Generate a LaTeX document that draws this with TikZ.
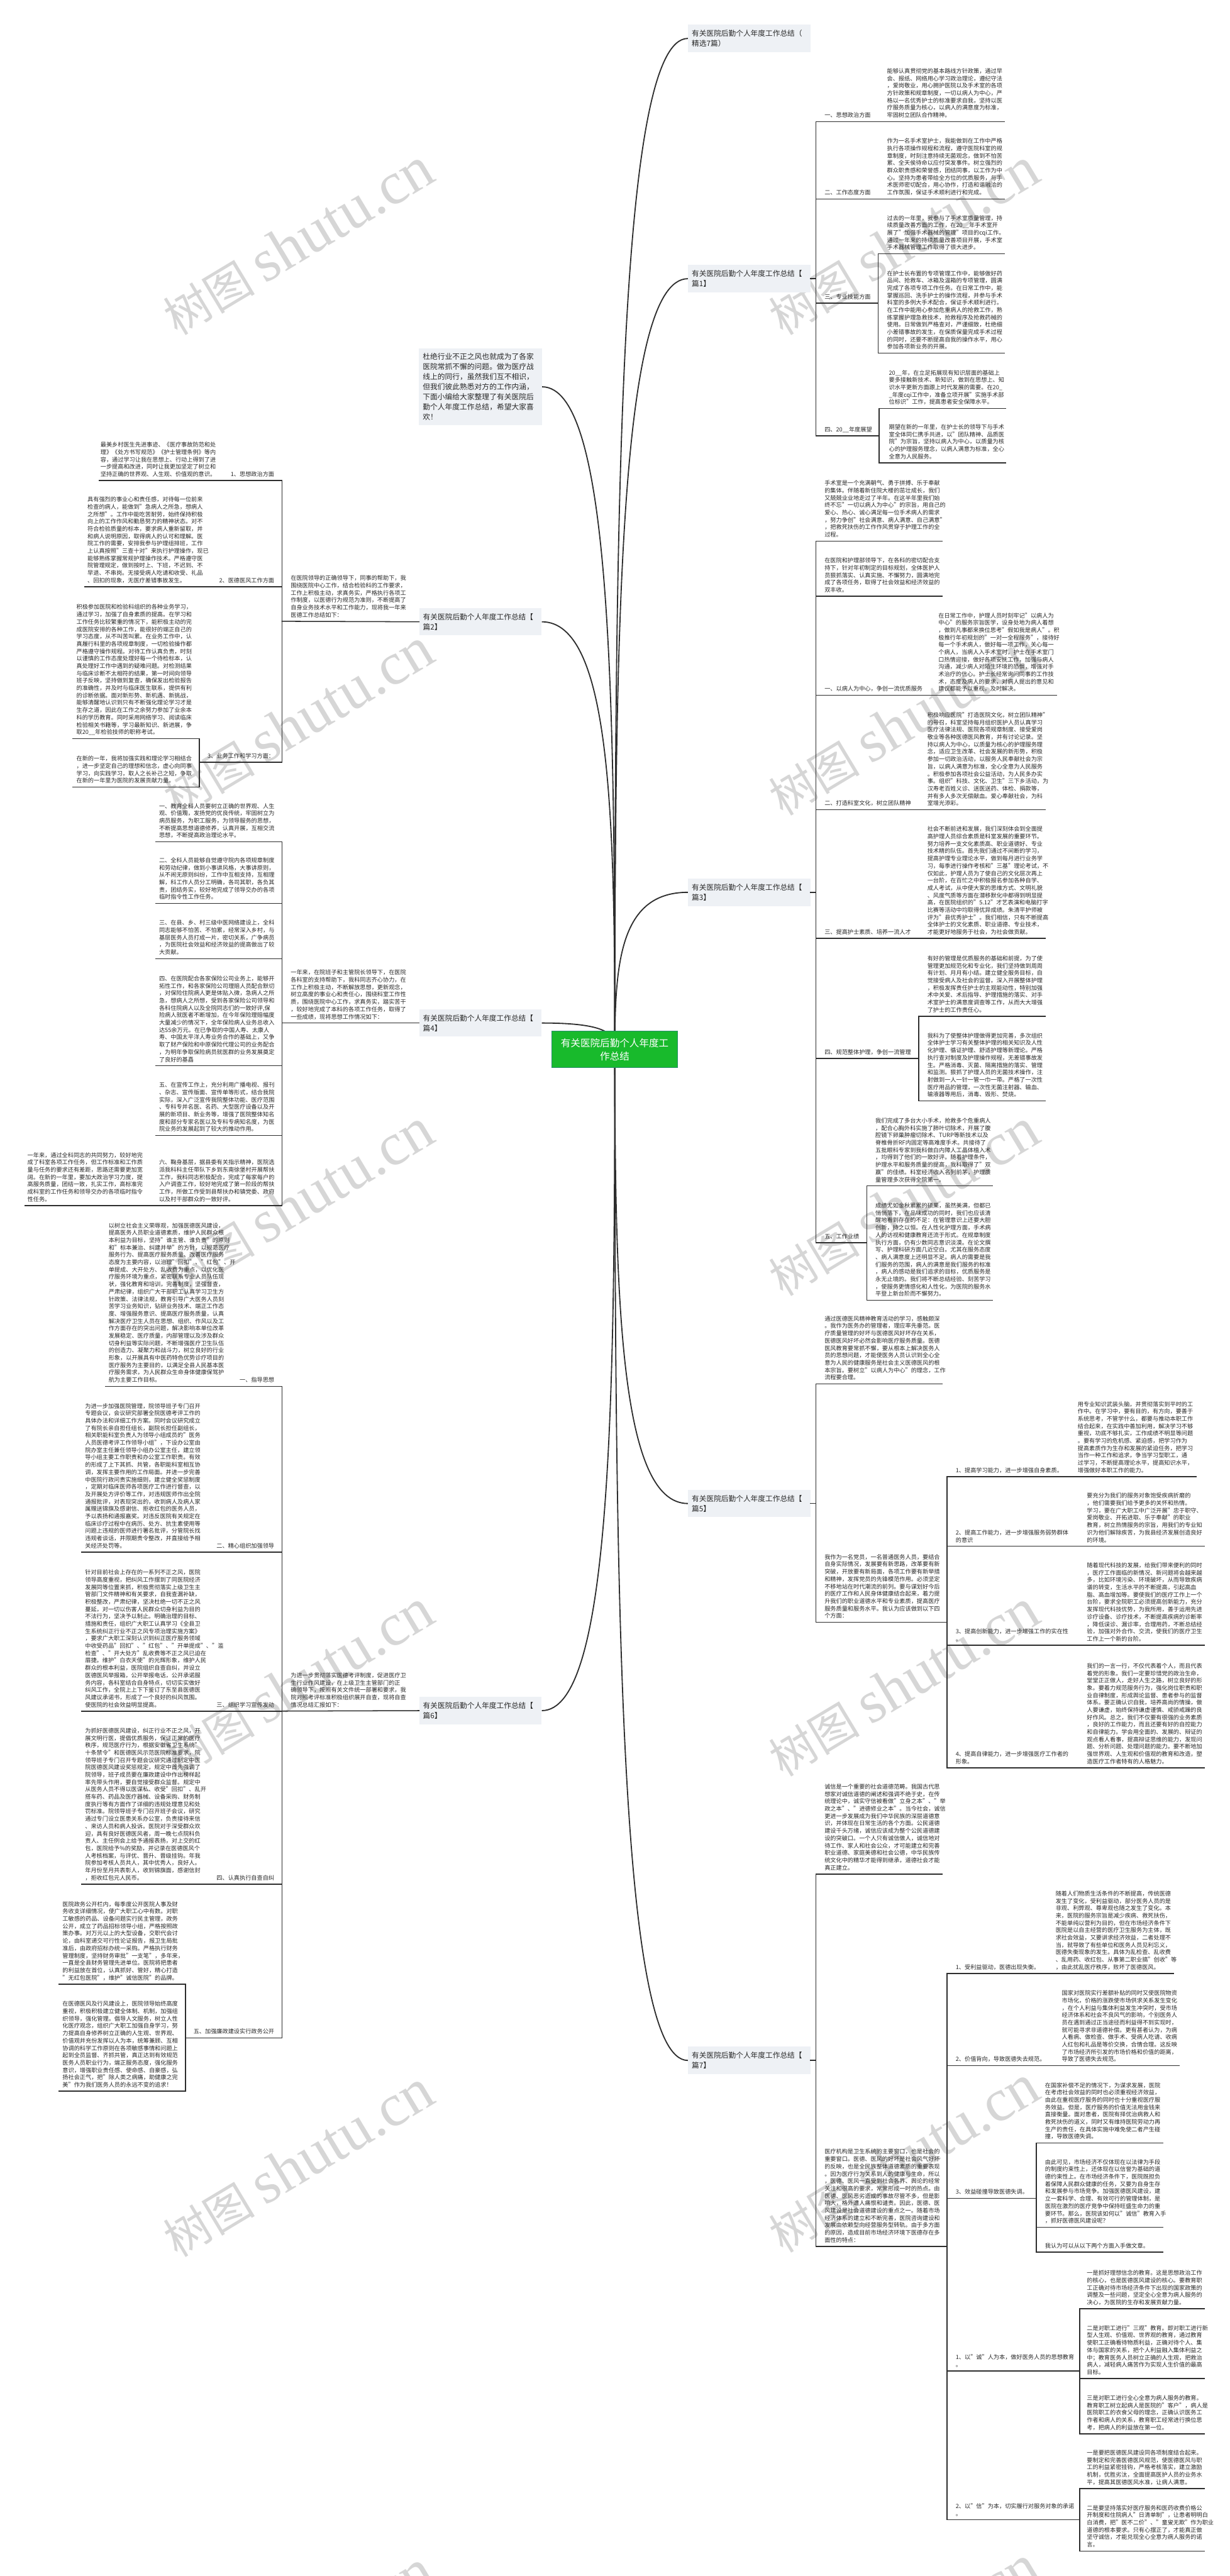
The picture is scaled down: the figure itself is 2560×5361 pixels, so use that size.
\documentclass[tikz,border=0pt]{standalone}
\usepackage{fontspec}
\setmainfont{Noto Sans CJK SC}
\newfontfamily\wmlat{Liberation Serif}
\definecolor{txt}{RGB}{40,40,40}
\definecolor{lncol}{RGB}{45,45,45}
\definecolor{labbg}{RGB}{238,241,245}
\definecolor{grn}{RGB}{24,186,44}
\definecolor{grnd}{RGB}{40,140,110}
\definecolor{wmc}{RGB}{214,214,214}
\pgfdeclarelayer{bg}
\pgfsetlayers{bg,main}
\newcommand\lfend{\rule[-3.5pt]{0pt}{1pt}}
\newcommand\TX[4]{\node[lf,anchor=south west] (#1) at (#2,#3-5) {#4\lfend};}
\newcommand\TXR[4]{\node[lf,anchor=south east] (#1) at (#2,#3-5) {#4\lfend};}
\newcommand\hln[3]{\draw[ln] (#1,#3) -- (#2,#3);}
\newcommand\vln[3]{\draw[ln] (#1,#2) -- (#1,#3);}
\newcommand\wmark[2]{\node[wm] at (#1,#2) {{\fontsize{95}{95}\selectfont 树图}\hspace{22pt}{\wmlat\fontsize{125}{125}\selectfont shutu.cn}};}
\tikzset{
  lf/.style={font=\fontsize{12}{15.3}\selectfont, align=left, inner sep=0pt, text=txt},
  lab/.style={fill=labbg, font=\fontsize{15.3}{21}\selectfont, align=left, text width=239pt, inner xsep=8pt, inner ysep=0pt, minimum height=57pt, text=txt},
  intro/.style={fill=labbg, font=\fontsize{15.4}{20.8}\selectfont, align=left, text width=240pt, inner xsep=8pt, inner ysep=0pt, minimum height=160pt, text=txt},
  ctr/.style={fill=grn, draw=grnd, line width=1.2pt, text=white, font=\fontsize{20.4}{27.7}\selectfont, align=center, minimum width=261pt, minimum height=76pt, inner sep=0pt},
  ln/.style={draw=lncol, line width=2pt, line cap=rect},
  cv/.style={draw=lncol, line width=2.4pt},
  wm/.style={anchor=base west, rotate=31, text=wmc, inner sep=0pt}
}
\begin{document}
\begin{tikzpicture}[x=1pt,y=-1pt]
\useasboundingbox (0,0) rectangle (2560,5361);
\begin{pgfonlayer}{bg}
\fill[white] (0,0) rectangle (2560,5361);
\wmark{1630}{700}\wmark{1630}{1700}\wmark{1630}{2700}\wmark{1630}{3700}\wmark{1630}{4690}\wmark{1630}{5690}
\wmark{370}{700}\wmark{370}{1700}\wmark{370}{2700}\wmark{370}{3700}\wmark{370}{4700}\wmark{370}{5700}
\end{pgfonlayer}

% ---------- main labels ----------
\node[lab] (r0) at (1559.5,80) {有关医院后勤个人年度工作总结（\\精选7篇）};
\node[lab] (p1) at (1559.5,580) {有关医院后勤个人年度工作总结【\\篇1】};
\node[lab] (p3) at (1559.5,1857) {有关医院后勤个人年度工作总结【\\篇3】};
\node[lab] (p5) at (1559.5,3129) {有关医院后勤个人年度工作总结【\\篇5】};
\node[lab] (p7) at (1559.5,4288) {有关医院后勤个人年度工作总结【\\篇7】};
\node[intro] (in) at (1000,805) {杜绝行业不正之风也就成为了各家\\医院常抓不懈的问题。做为医疗战\\线上的同行，虽然我们互不相识，\\但我们彼此熟悉对方的工作内涵，\\下面小编给大家整理了有关医院后\\勤个人年度工作总结，希望大家喜\\欢！};
\node[lab] (q2) at (1000,1294) {有关医院后勤个人年度工作总结【\\篇2】};
\node[lab] (q4) at (1000,2129) {有关医院后勤个人年度工作总结【\\篇4】};
\node[lab] (q6) at (1000,3560) {有关医院后勤个人年度工作总结【\\篇6】};
\node[ctr] (c) at (1279.5,2184) {有关医院后勤个人年度工\\作总结};

% ---------- 篇1 ----------
\vln{1698}{253}{907}
\draw[ln] (p1.east) -- (1698,580);
\TX{a1l}{1716}{253}{一、思想政治方面}
\TX{a1t}{1846}{253}{能够认真贯彻党的基本路线方针政策，通过早\\
会、报纸、网络用心学习政治理论，遵纪守法\\
，爱岗敬业，用心拥护医院以及手术室的各项\\
方针政策和规章制度，一切以病人为中心，严\\
格以一名优秀护士的标准要求自我，坚持以医\\
疗服务质量为核心，以病人的满意度为标准，\\
牢固树立团队合作精神。}
\hln{1698}{2091}{253}
\TX{a2l}{1716}{414}{二、工作态度方面}
\TX{a2t}{1846}{414}{作为一名手术室护士，我能做到在工作中严格\\
执行各项操作规程和流程，遵守医院科室的规\\
章制度，时刻注意持续无菌观念，做到不怕苦\\
累、全天侯待命以应付突发事件。树立强烈的\\
群众职责感和荣誉感，团结同事，以工作为中\\
心。坚持为患者带给全方位的优质服务，与手\\
术医师密切配合，用心协作，打造和谐融洽的\\
工作氛围，保证手术顺利进行和完成。}
\hln{1698}{2091}{414}
\TX{a3l}{1716}{631}{三、专业技能方面}
\hln{1698}{1828}{631}
\vln{1828}{528}{735}
\TX{a3a}{1846}{528}{过去的一年里，我参与了手术室质量管理，持\\
续质量改善方面的工作，在20\_\_年手术室开\\
展了"加强手术器械的管理"项目的cqi工作。\\
通过一年来的持续质量改善项目开展，手术室\\
手术器械管理工作取得了很大进步。}
\hln{1828}{2091}{528}
\TX{a3b}{1846}{735}{在护士长布置的专项管理工作中，能够做好药\\
品间、抢救车、冰箱及温箱的专项管理，圆满\\
完成了各项专项工作任务。在日常工作中，能\\
掌握巡回、洗手护士的操作流程，并参与手术\\
科室的多例大手术配合，保证手术顺利进行。\\
在工作中能用心参加危重病人的抢救工作，熟\\
练掌握护理急救技术，抢救程序及抢救药械的\\
使用。日常做到严格查对，严谨细致，杜绝细\\
小差错事故的发生，在保质保量完成手术过程\\
的同时，还要不断提高自我的操作水平，用心\\
参加各项新业务的开展。}
\hln{1828}{2091}{735}
\TX{a4l}{1716}{907}{四、20\_\_年度展望}
\hln{1698}{1830}{907}
\vln{1830}{850}{963}
\TX{a4a}{1850}{850}{20\_\_年，在立足拓展现有知识层面的基础上\\
要多接触新技术、新知识，做到在思想上、知\\
识水平更新方面跟上时代发展的需要。在20\_\\
\_年度cqi工作中，准备立项开展"实施手术部\\
位标识"工作，提高患者安全保障水平。}
\hln{1830}{2093}{850}
\TX{a4b}{1850}{963}{期望在新的一年里，在护士长的领导下与手术\\
室全体同仁携手共进，以"团队精神、品质医\\
院"为宗旨，坚持以病人为中心，以质量为核\\
心的护理服务理念，以病人满意为标准，全心\\
全意为人民服务。}
\hln{1830}{2093}{963}

% ---------- 篇3 ----------
\vln{1698}{1126}{2586}
\draw[ln] (p3.east) -- (1698,1857);
\TX{b1}{1716}{1126}{手术室是一个充满朝气、勇于拼搏、乐于奉献\\
的集体。伴随着新住院大楼的茁壮成长，我们\\
又兢兢业业地走过了半年。在这半年里我们始\\
终不忘"一切以病人为中心"的宗旨，用自己的\\
爱心、热心、诚心满足每一位手术病人的需求\\
，努力争创"社会满意、病人满意、自己满意"\\
，把救死扶伤的工作作风贯穿于护理工作的全\\
过程。}
\hln{1698}{1961}{1126}
\TX{b2}{1716}{1241}{在医院和护理部领导下，在各科的密切配合支\\
持下，针对年初制定的目标规划，全体医护人\\
员狠抓落实、认真实施、不懈努力，圆满地完\\
成了各项任务，取得了社会效益和经济效益的\\
双丰收。}
\hln{1698}{1961}{1241}
\TX{b3l}{1716}{1447}{一、以病人为中心，争创一流优质服务}
\TX{b3t}{1953}{1447}{在日常工作中，护理人员时刻牢记"以病人为\\
中心"的服务宗旨医学，设身处地为病人着想\\
，做到凡事都来换位思考"假如我是病人"。积\\
极推行年初规划的"一对一全程服务"，接待好\\
每一个手术病人，做好每一项工作，关心每一\\
个病人，当病人入手术室时，护士在手术室门\\
口热情迎接，做好各项安抚工作，加强与病人\\
沟通，减少病人对陌生环境的恐惧，增强对手\\
术治疗的信心。护士长经常询问同事的工作技\\
术，态度及病人的要求，对病人提出的意见和\\
建议都能予以重视，及时解决。}
\hln{1698}{2199}{1447}
\TX{b4l}{1716}{1685}{二、打造科室文化，树立团队精神}
\TX{b4t}{1930}{1685}{积极响应医院"打造医院文化，树立团队精神"\\
的号召，科室坚持每月组织医护人员认真学习\\
医疗法律法规、医院各项规章制度、接受爱岗\\
敬业等各种医德医风教育，并有讨论记录。坚\\
持以病人为中心，以质量为核心的护理服务理\\
念，适应卫生改革、社会发展的新形势，积极\\
参加一切政治活动，以服务人民奉献社会为宗\\
旨，以病人满意为标准，全心全意为人民服务\\
。积极参加各项社会公益活动，为人民多办实\\
事。组织"科技、文化、卫生"三下乡活动，为\\
汉寿老百姓义诊、送医送药、体检、捐款等，\\
并有多人多次无偿献血。爱心奉献社会，为科\\
室增光添彩。}
\hln{1698}{2175}{1685}
\TX{b5l}{1716}{1953}{三、提高护士素质、培养一流人才}
\TX{b5t}{1930}{1953}{社会不断前进和发展，我们深刻体会到全面提\\
高护理人员综合素质是科室发展的重要环节。\\
努力培养一支文化素质高、职业道德好、专业\\
技术精的队伍。首先我们通过不间断的学习，\\
提高护理专业理论水平，做到每月进行业务学\\
习，每季进行操作考核和"三基"理论考试，不\\
仅如此，护理人员为了使自己的文化层次再上\\
一台阶，在百忙之中积极报名参加各种自学、\\
成人考试，从中使大家的思维方式、文明礼貌\\
、风度气质等方面在潜移默化中都得到明显提\\
高，在医院组织的"5.12"才艺表演和电脑打字\\
比赛等活动中均取得优异成绩。朱清平护师被\\
评为"县优秀护士"。我们相信，只有不断提高\\
全体护士的文化素质、职业道德、专业技术，\\
才能更好地服务于社会，为社会做贡献。}
\hln{1698}{2175}{1953}
\TX{b6l}{1716}{2203}{四、规范整体护理，争创一流管理}
\hln{1698}{1912}{2203}
\vln{1912}{2115}{2291}
\TX{b6a}{1930}{2115}{有好的管理是优质服务的基础和前提，为了使\\
管理更加规范化和专业化，我们坚持做到周周\\
有计划、月月有小结。建立健全服务目标，自\\
觉接受病人及社会的监督。深入开展整体护理\\
，积极发挥责任护士的主观能动性，特别加强\\
术中关爱、术后指导、护理措施的落实、对手\\
术室护士的满意度调查等工作，从而大大增强\\
了护士的工作责任心。}
\hln{1912}{2175}{2115}
\TX{b6b}{1930}{2291}{我科为了使整体护理做得更加完善，多次组织\\
全体护士学习有关整体护理的相关知识及人性\\
化护理、循证护理、舒适护理等新理论。严格\\
执行查对制度及护理操作规程，无差错事故发\\
生。严格消毒、灭菌、隔离措施的落实、管理\\
和监测。狠抓了护理人员的无菌技术操作，注\\
射做到一人一针一管一巾一带。严格了一次性\\
医疗用品的管理，一次性无菌注射器、输血、\\
输液器等用后，消毒、毁形、焚烧。}
\hln{1912}{2175}{2291}
\TX{b7l}{1716}{2586}{五、工作业绩}
\hln{1698}{1804}{2586}
\vln{1804}{2468}{2706}
\TX{b7a}{1822}{2468}{我们完成了多台大小手术，抢救多个危重病人\\
，配合心胸外科实施了肺叶切除术，开展了腹\\
腔镜下卵巢肿瘤切除术、TURP等新技术以及\\
脊椎骨折RF内固定等高难度手术。共接待了\\
五批眼科专家到我科做白内障人工晶体植入术\\
，均得到了他们的一致好评。随着护理条件，\\
护理水平和服务质量的提高，我科取得了"双\\
赢"的佳绩。科室经济收入名列前茅，护理质\\
量管理多次获得全院第一。}
\hln{1804}{2066}{2468}
\TX{b7b}{1822}{2706}{成绩尤如金秋累累的硕果，虽然美满，但都已\\
悄悄落下，在品味成功的同时，我们也应该清\\
醒地看到存在的不足：在管理意识上还要大胆\\
创新，持之以恒。在人性化护理方面，手术病\\
人的访视和健康教育还流于形式。在规章制度\\
执行方面，仍有少数同志意识淡漠。在论文撰\\
写、护理科研方面几近空白。尤其在服务态度\\
、病人满意度上还明显不足。病人的需要是我\\
们服务的范围，病人的满意是我们服务的标准\\
，病人的感动是我们追求的目标，优质服务是\\
永无止境的。我们将不断总结经验、刻苦学习\\
，使服务更情感化和人性化，为医院的服务水\\
平登上新台阶而不懈努力。}
\hln{1804}{2066}{2706}

% ---------- 篇5 ----------
\vln{1698}{2880}{3376}
\draw[ln] (p5.east) -- (1698,3129);
\TX{c1}{1716}{2880}{通过医德医风精神教育活动的学习，感触颇深\\
。我作为医务办的管理者，理应率先垂范。医\\
疗质量管理的好坏与医德医风好坏存在关系，\\
医德医风好坏必然会影响医疗服务质量。医德\\
医风教育要常抓不懈，要从根本上解决医务人\\
员的思想问题，才能使医务人员认识到全心全\\
意为人民的健康服务是社会主义医德医风的根\\
本宗旨。要树立"以病人为中心"的理念，工作\\
流程要合理。}
\hln{1698}{1961}{2880}
\TX{c2}{1716}{3376}{我作为一名党员，一名普通医务人员，要结合\\
自身实际情况，发展要有新思路，改革要有新\\
突破，开放要有新局面，各项工作要有新举措\\
和精神，发挥党员的先锋模范作用。必须坚定\\
不移地站在时代潮流的前列。要与谋划好今后\\
的医疗工作和人民身体健康结合起来，着力提\\
升我们的职业道德水平和专业素质，提高医疗\\
服务质量和服务水平。我认为应该做到以下四\\
个方面：}
\hln{1698}{1971}{3376}
\vln{1971}{3073}{3679}
\TX{c21l}{1989}{3073}{1、提高学习能力，进一步增强自身素质。}
\TX{c21t}{2243}{3073}{用专业知识武装头脑，并贯彻落实到平时的工\\
作中。在学习中，要有目的，有方向，要善于\\
系统思考，不管学什么，都要与推动本职工作\\
结合起来，在实践中善加利用，解决学习不够\\
重视，功底不够扎实，工作成绩不明显等问题\\
。要有学习的危机感、紧迫感，把学习作为\\
提高素质作为生存和发展的紧迫任务，把学习\\
当作一种工作和追求，争当学习型职工，通\\
过学习，不断提高理论水平，提高知识水平，\\
增强做好本职工作的能力。}
\hln{1971}{2490}{3073}
\TX{c22l}{1989}{3218}{2、提高工作能力，进一步增强服务弱势群体\\的意识}
\TX{c22t}{2262}{3218}{要充分为我们的服务对象饱受疾病折磨的\\
，他们需要我们给予更多的关怀和热情。\\
学习，要在广大职工中广泛开展"忠于职守、\\
爱岗敬业、开拓进取、乐于奉献"的职业\\
教育，树立热情服务的宗旨，用我们的专业知\\
识为他们解除疾苦，为我县经济发展创造良好\\
的环境。}
\hln{1971}{2507}{3218}
\TX{c23l}{1989}{3424}{3、提高创新能力，进一步增强工作的实在性\\。}
\TX{c23t}{2262}{3424}{随着现代科技的发展，给我们带来便利的同时\\
，医疗工作面临的新情况、新问题将会越来越\\
多，比如环境污染、环境破坏，从而导致疾病\\
谱的转变，生活水平的不断提高，引起高血\\
脂、高血增加等。要使我们的医疗工作上一个\\
台阶，要求全院职工必须提高创新能力，充分\\
发挥现代科技优势，为我所用，善于运用先进\\
诊疗设备、诊疗技术，不断提高疾病的诊断率\\
，降低误诊、漏诊率，合理用药，不断总结经\\
验，加强对外合作、交流，使我们的医疗卫生\\
工作上一个新的台阶。}
\hln{1971}{2507}{3424}
\TX{c24l}{1989}{3679}{4、提高自律能力，进一步增强医疗工作者的\\形象。}
\TX{c24t}{2262}{3679}{我们的一言一行，不仅代表着个人，而且代表\\
着党的形象。我们一定要珍惜党的政治生命，\\
堂堂正正做人，走好人生之路，树立良好的形\\
象。要着力规范服务行为，强化岗位职责和职\\
业自律制度，形成舆论监督、患者参与的监督\\
体系。要正确认识自我，培养高尚的情操，做\\
人要谦虚，始终保持谦虚谨慎、戒骄戒躁的良\\
好作风。总之，我们不仅要有很强的业务素质\\
，良好的工作能力，而且还要有好的自控能力\\
和自律能力。学会用全面的、发展的、辩证的\\
观点看人看事，提高辩证思维的能力，发现问\\
题、分析问题、处理问题的能力。要不断地加\\
强世界观、人生观和价值观的教育和改造，塑\\
造医疗工作者特有的人格魅力。}
\hln{1971}{2507}{3679}

% ---------- 篇7 ----------
\vln{1698}{3900}{4675}
\draw[ln] (p7.east) -- (1698,4288);
\TX{d1}{1716}{3900}{诚信是一个重要的社会道德范畴。我国古代思\\
想家对诚信道德的阐述和强调不绝于史，在传\\
统理论中，诚实守信被看做"立身之本"、"举\\
政之本"、"进德修业之本"。当今社会，诚信\\
更进一步发展成为我们中华民族的深层道德意\\
识，并体现在日常生活的各个方面。公民道德\\
建设千头万绪，诚信应该成为整个公民道德建\\
设的突破口。一个人只有诚信做人，诚信地对\\
待工作、家人和社会公众，才可能建立和完善\\
职业道德、家庭美德和社会公德，中华民族传\\
统文化中的精华才能得到继承，道德社会才能\\
真正建立。}
\hln{1698}{1961}{3900}
\TX{d2}{1716}{4675}{医疗机构是卫生系统的主要窗口，也是社会的\\
重要窗口。医德、医风的好坏是社会风气好坏\\
的反映，也是全民族整体道德素质的重要表现\\
。因为医疗行为关系到人的健康与生命，所以\\
，医德、医风一直受到社会各界、舆论的经常\\
关注和很高的要求，常常形成一时的热点。由\\
医德、医风恶劣造成的事故尽管不多，但是影\\
响大，格外遭人痛恨和谴责。因此，医德、医\\
风建设是社会道德建设的重点之一。随着市场\\
经济体系的建立和不断完善，医院咨询建设和\\
发展由依赖型向经营服务型转轨。由于多方面\\
的原因，造成目前市场经济环境下医德存在多\\
面性的特点：}
\hln{1698}{1971}{4675}
\vln{1971}{4107}{5244}
\TX{d21l}{1989}{4107}{1、受利益驱动，医德出现失衡。}
\TX{d21t}{2197}{4107}{随着人们物质生活条件的不断提高，传统医德\\
发生了变化，受利益驱动，部分医务人员的是\\
非观、利弊观、尊卑观也随之发生了变化。本\\
来，医院的服务宗旨是减少疾病、救死扶伤，\\
不能单纯以营利为目的，但在市场经济条件下\\
医院是以自主经营的医疗卫生服务为主体，既\\
求社会效益，又要讲求经济效益，二者处理不\\
当，就导致了有些单位和医务人员见利忘义，\\
医德失衡现象的发生。具体为乱检查、乱收费\\
、乱用药、收红包、从事第二职业搞"创收"等\\
，由此扰乱医疗秩序，败坏了医德医风。}
\hln{1971}{2442}{4107}
\TX{d22l}{1989}{4299}{2、价值背向，导致医德失去规范。}
\TX{d22t}{2210}{4299}{国家对医院实行差额补贴的同时又使医院物资\\
市场化，价格的涨跌使市场供求关系发生变化\\
，在个人利益与集体利益发生冲突时，受市场\\
经济体系和社会不良风气的影响，个别医务人\\
员在遇到通过正当途径而利益得不到实现时，\\
就可能寻求非道德补偿。更有甚者认为，为病\\
人看病、做检查、做手术、受病人吃请、收病\\
人红包和礼品是等价交换，合情合理。这反映\\
了市场经济所引发的市场价格和价值的距离，\\
导致了医德失去规范。}
\hln{1971}{2455}{4299}
\TX{d23l}{1989}{4575}{3、效益碰撞导致医德失调。}
\hln{1971}{2157}{4575}
\vln{2157}{4460}{4687}
\TX{d23a}{2175}{4460}{在国家补偿不足的情况下，为谋求发展，医院\\
在考虑社会效益的同时也必须重视经济效益，\\
由此在重视医疗服务的同时也十分重视医疗服\\
务效益。但是，医疗服务的价值无法用金钱来\\
直接衡量。面对患者，医院有择优治病救人和\\
救死扶伤的道义，同时又有维持医院劳动力再\\
生产的责任，在具体实施中难免使二者产生碰\\
撞，导致医德失调。}
\hln{2157}{2420}{4460}
\TX{d23b}{2175}{4635}{由此可见，市场经济不仅体现在以法律为手段\\
的制度约束性上，还体现在以信誉为基础的道\\
德约束性上。在市场经济条件下，医院既担负\\
着保障人民群众健康的任务，又要为自身生存\\
和发展参与市场竞争。加强医德医风建设，建\\
立一套科学、合理、有效可行的管理体制，是\\
医院在激烈的医疗竞争中保持旺盛生命力的重\\
要环节。那么，医院该如何以"诚信"教育入手\\
，抓好医德医风建设呢？}
\hln{2157}{2420}{4635}
\TX{d23c}{2175}{4687}{我认为可以从以下两个方面入手做文章。}
\hln{2157}{2420}{4687}
\TX{d24l}{1989}{4934}{1、以"诚"人为本，做好医务人员的思想教育\\。}
\hln{1971}{2247}{4934}
\vln{2247}{4805}{5065}
\TX{d24a}{2262}{4805}{一是抓好理想信念的教育。这是思想政治工作\\
的核心，也是医德医风建设的核心。要教育职\\
工正确对待市场经济条件下出现的国家政策的\\
调整及一些问题，坚定全心全意为病人服务的\\
决心，为医院的生存和发展贡献力量。}
\hln{2247}{2507}{4805}
\TX{d24b}{2262}{4950}{二是对职工进行"三观"教育。即对职工进行新\\
型人生观、价值观、世界观的教育，通过教育\\
使职工正确看待物质利益，正确对待个人、集\\
体与国家的关系，把个人利益融入集体利益之\\
中；教育医务人员树立正确的人生观，把救治\\
病人，减轻病人痛苦作为实现人生价值的最高\\
目标。}
\hln{2247}{2507}{4950}
\TX{d24c}{2262}{5065}{三是对职工进行全心全意为病人服务的教育。\\
教育职工树立起病人是医院的"客户"，病人是\\
医院职工的衣食父母的理念，正确认识医务工\\
作者和病人的关系，教育职工经常进行换位思\\
考，把病人的利益放在第一位。}
\hln{2247}{2507}{5065}
\TX{d25l}{1989}{5244}{2、以"信"为本，切实履行对服务对象的承诺\\。}
\hln{1971}{2247}{5244}
\vln{2247}{5179}{5309}
\TX{d25a}{2262}{5179}{一是要把医德医风建设同各项制度结合起来。\\
要制定和完善医德医风规范，使医德医风与职\\
工的利益紧密挂钩，严格考核落实，建立激励\\
机制，优胜劣汰，全面提高医护人员的业务水\\
平，提高其医德医风水准，让病人满意。}
\hln{2247}{2507}{5179}
\TX{d25b}{2262}{5309}{二是要坚持落实好医疗服务和医药收费价格公\\
开制度和住院病人"日清单制"，让患者明明白\\
白消费，把"医不二价"、"童叟无欺"作为职业\\
道德的根本要求。只有心摆正了，才能真正做\\
坚守诚信，才能兑现全心全意为病人服务的诺\\
言。}
\hln{2247}{2507}{5309}

% ---------- 篇2 ----------
\draw[ln] (q2.west) -- (587,1293);
\TX{e0}{605}{1293}{在医院领导的正确领导下，同事的帮助下，我\\
围绕医院中心工作，结合检验科的工作要求，\\
工作上积极主动，求真务实，严格执行各项工\\
作制度，以医德行为规范为准则，不断提高了\\
自身业务技术水平和工作能力，现将我一年来\\
医德工作总结如下：}
\vln{587}{1000}{1586}
\TXR{e1l}{571}{1000}{1、思想政治方面}
\TX{e1t}{209}{1000}{最美乡村医生先进事迹、《医疗事故防范和处\\
理》《处方书写规范》《护士管理条例》等内\\
容，通过学习让我在思想上、行动上得到了进\\
一步提高和改进，同时让我更加坚定了树立和\\
坚持正确的世界观、人生观、价值观的意识。}
\hln{207}{587}{1000}
\TXR{e2l}{571}{1221}{2、医德医风工作方面}
\TX{e2t}{182}{1221}{具有强烈的事业心和责任感，对待每一位前来\\
检查的病人，能做到"急病人之所急，想病人\\
之所想"。工作中能吃苦耐劳，始终保持积极\\
向上的工作作风和勤恳努力的精神状态。对不\\
符合检验质量的标本，要求病人重新留取，并\\
和病人说明原因，取得病人的认可和理解。医\\
院工作的需要，安排我参与护理组排班，工作\\
上认真按照"三查十对"来执行护理操作，现已\\
能够熟练掌握常规护理操作技术。严格遵守医\\
院管理规定，做到按时上、下班，不迟到、不\\
早退、不串岗。无接受病人吃请和收受、礼品\\
、回扣的现象，无医疗差错事故发生。}
\hln{176}{587}{1221}
\TXR{e3l}{571}{1586}{3、业务工作和学习方面：}
\hln{415}{587}{1586}
\vln{415}{1537}{1638}
\TX{e3a}{159}{1537}{积极参加医院和检验科组织的各种业务学习，\\
通过学习，加强了自身素质的提高。在学习和\\
工作任务比较繁重的情况下，能积极主动的完\\
成医院安排的各种工作，能很好的端正自己的\\
学习态度，从不叫苦叫累。在业务工作中，认\\
真履行科里的各项规章制度，一切检验操作都\\
严格遵守操作规程。对待工作认真负责，时刻\\
以谨慎的工作态度处理好每一个待检标本，认\\
真处理好工作中遇到的疑难问题。对检测结果\\
与临床诊断不太相符的结果，第一时间向领导\\
班子反映，坚持做到复查，确保发出检验报告\\
的准确性，并及时与临床医生联系，提供有利\\
的诊断依据。面对新形势、新机遇、新挑战，\\
能够清醒地认识到只有不断强化理论学习才是\\
生存之道，因此在工作之余努力参加了业余本\\
科的学历教育。同时采用网络学习、阅读临床\\
检验相关书籍等，学习最新知识、新进展，争\\
取20\_\_年检验技师的职称考试。}
\hln{152}{415}{1537}
\TX{e3b}{159}{1638}{在新的一年，我将加强实践和理论学习相结合\\
，进一步坚定自己的理想和信念，虚心向同事\\
学习，向实践学习，取人之长补己之短，争取\\
在新的一年里为医院的发展贡献力量。}
\hln{152}{415}{1638}

% ---------- 篇4 ----------
\draw[ln] (q4.west) -- (587,2129);
\TX{f0}{605}{2129}{一年来，在院班子和主管院长领导下，在医院\\
各科室的支持帮助下，我科同志齐心协力，在\\
工作上积极主动，不断解放思想，更新观念，\\
树立高度的事业心和责任心，围绕科室工作性\\
质，围绕医院中心工作，求真务实，踏实苦干\\
，较好地完成了本科的各项工作任务，取得了\\
一些成绩，现将思想工作情况如下：}
\vln{587}{1752}{2509}
\TX{f1}{331}{1752}{一、教育全科人员要树立正确的世界观、人生\\
观、价值观，发扬党的优良传统，牢固树立为\\
病员服务，为职工服务，为领导服务的思想，\\
不断提高思想道德修养，认真开展，互相交流\\
思想，不断提高政治理论水平。}
\hln{324}{587}{1752}
\TX{f2}{331}{1880}{二、全科人员能够自觉遵守院内各项规章制度\\
和劳动纪律，做到小事讲风格，大事讲原则，\\
从不闹无原则纠纷，工作中互相支持，互相理\\
解，科工作人员分工明确，各司其职，各负其\\
责，团结务实，较好地完成了领导交办的各项\\
临时指令性工作任务。}
\hln{324}{587}{1880}
\TX{f3}{331}{1995}{三、在县、乡、村三级中医网络建设上，全科\\
同志能够不怕苦、不怕累，经常深入乡村，与\\
基层医务人员打成一片，密切关系，广争病员\\
，为医院社会效益和经济效益的提高做出了较\\
大贡献。}
\hln{324}{587}{1995}
\TX{f4}{331}{2218}{四、在医院配合各家保险公司业务上，能够开\\
拓性工作，和各家保险公司理赔人员配合默切\\
，对保险住院病人更是体贴入微，急病人之所\\
急，想病人之所想，受到各家保险公司领导和\\
各科住院病人以及全院同志们的一致好评,保\\
险病人就医者不断增加，在今年保险理赔幅度\\
大量减少的情况下，全年保险病人业务总收入\\
达55余万元。在已争取的中国人寿、太康人\\
寿、中国太平洋人寿业务合作的基础上，又争\\
取了财产保险和中原保险代理公司的业务配合\\
，为明年争取保险病员就医群的业务发展奠定\\
了良好的基嚞}
\hln{324}{587}{2218}
\TX{f5}{331}{2363}{五、在宣传工作上，充分利用广播电视、报刊\\
、杂志、宣传版面、宣传单等形式，结合我院\\
实际，深入广泛宣传我院整体功能、医疗范围\\
、专科专并名医、名药、大型医疗设备以及开\\
展的新项目、新业务等，增强了医院整体知名\\
度和部分专家名医以及专科专病知名度，为医\\
院业务的发展起到了较大的推动作用。}
\hln{324}{587}{2363}
\TX{f6}{331}{2509}{六、鞠身基层，据县委有关指示精神，医院选\\
派我科科主任带队下乡到东南徐堡村开展帮扶\\
工作，我科同志积极配合，完成了每家每户的\\
入户调查工作，较好地完成了第一阶段的帮扶\\
工作，所做工作受到县帮扶办和镇党委、政府\\
以及村干部群众的一致好评。}
\hln{324}{587}{2509}
\TX{f7}{57}{2509}{一年来，通过全科同志的共同努力，较好地完\\
成了科室各项工作任务，但工作标准和工作质\\
量与任务的要求还有差距，思路还需要更加宽\\
阔。在新的一年里，要加大政治学习力度，提\\
高服务质量，团结一致，扎实工作，高标准完\\
成科室的工作任务和领导交办的各项临时指令\\
性任务。}
\hln{52}{324}{2509}

% ---------- 篇6 ----------
\draw[ln] (q6.west) -- (587,3561);
\TX{g0}{605}{3561}{为进一步贯彻落实医德考评制度，促进医疗卫\\
生行业作风建设，在上级卫生主管部门的正\\
确领导下，按照有关文件统一部署和要求，我\\
院对照考评标准积极组织展开自查，现将自查\\
情况总结汇报如下：}
\vln{587}{2885}{4241}
\TXR{g1l}{571}{2885}{一、指导思想}
\TX{g1t}{226}{2885}{以树立社会主义荣辱观，加强医德医风建设，\\
提高医务人员职业道德素质，维护人民群众根\\
本利益为目标，坚持"谁主管、谁负责"的原则\\
和"标本兼治、纠建并举"的方针，以规范医疗\\
服务行为、提高医疗服务质量、改善医疗服务\\
态度为主要内容，以治理"回扣"、"红包"、开\\
单提成、大开处方、乱收费为重点，以优化医\\
疗服务环境为重点，紧密联系专业人员队伍现\\
状，强化教育和培训，完善制度，坚强督查，\\
严肃纪律，组织广大干部职工认真学习卫生方\\
针政策、法律法规，教育引导广大医务人员刻\\
苦学习业务知识，钻研业务技术、端正工作态\\
度、增强服务意识、提高医疗服务质量，认真\\
解决医疗卫生人员在思想、组织、作风以及工\\
作方面存在的突出问题，解决影响本单位改革\\
发展稳定、医疗质量，内部管理以及涉及群众\\
切身利益等实际问题，不断增强医疗卫生队伍\\
的创造力、凝聚力和战斗力，树立良好的行业\\
形象，以开展具有中医药特色优势诊疗项目的\\
医疗服务为主要目的，以满足全县人民基本医\\
疗服务需求，为人民群众生命身体健康保驾护\\
航为主要工作目标。}
\hln{219}{587}{2885}
\TXR{g2l}{571}{3230}{二、精心组织加强领导}
\TX{g2t}{177}{3230}{为进一步加强医院管理，院领导班子专门召开\\
专题会议，会议研究部署全院医德考评工作的\\
具体办法和详细工作方案。同时会议研究成立\\
了有院长亲自担任组长，副院长担任副组长，\\
相关职能科室负责人为领导小组成员的"医务\\
人员医德考评工作领导小组"，下设办公室由\\
院办室主任兼任领导小组办公室主任，建立领\\
导小组主要工作职责和办公室工作职责。有效\\
的形成了上下其抓、共管，各职能科室相互协\\
调，发挥主要作用的工作局面。并进一步完善\\
中医院行政问责实施细则，建立健全奖惩制度\\
，定期对临床医师各项医疗工作进行督查，以\\
及开展处方评价等工作，对违规医师作出全院\\
通报批评，对表现突出的，收到病人及病人家\\
属赠送锦旗及感谢信、拒收红包的医务人员，\\
予以表扬和通报嘉奖。对违反医院有关规定在\\
临床诊疗过程中在病历、处方、抗生素使用等\\
问题上违规的医师进行署名批评，分管院长找\\
违规者谈话，并限期责令整改，并直接给予相\\
关经济处罚等。}
\hln{170}{587}{3230}
\TXR{g3l}{571}{3561}{三、组织学习宣传发动}
\TX{g3t}{177}{3561}{针对目前社会上存在的一系列不正之风，医院\\
领导高度重视，把纠风工作摆到了同医院经济\\
发展同等位置来抓，积极贯彻落实上级卫生主\\
管部门文件精神和有关要求，自我查漏补缺，\\
积极整改，严肃纪律，坚决杜绝一切不正之风\\
蔓延，对一切以伤害人民群众切身利益为目的\\
不法行为，坚决予以制止。明确治理的目标、\\
措施和责任，组织广大职工认真学习《全县卫\\
生系统纠正行业不正之风专项治理实施方案》\\
，要求广大职工深刻认识到纠正医疗服务领域\\
中收受药品"回扣"、"红包"、"开单提成"、"滥\\
检查"、"开大处方"乱收费等不正之风已迫在\\
眉捷。维护"白衣天使"的光辉形象，维护人民\\
群众的根本利益，医院组织自查自纠，并设立\\
医德医风举报箱，公开举报电话，公开承诺服\\
务内容，各科室结合自身特点，切切实实做好\\
纠风工作，全院上上下下鉴订了东至县医德医\\
风建议承诺书，形成了一个良好的纠风氛围。\\
使医院的社会效益明显提高。}
\hln{170}{587}{3561}
\TXR{g4l}{571}{3921}{四、认真执行自查自纠}
\TX{g4t}{177}{3921}{为抓好医德医风建设，纠正行业不正之风，开\\
展文明行医，提倡优质服务，保证正常的医疗\\
秩序，规范医疗行为，根据安徽省卫生系统"\\
十条禁令"和医德医风示范医院标准要求，院\\
领导班子专门召开专题会议研究通过制定中医\\
院医德医风建设奖惩规定，规定中首先强调了\\
院领导，班子成员要在廉政建设中作出榜样起\\
率先带头作用，要自觉接受群众监督。规定中\\
从医务人员不得以医谋私、收受"回扣"、乱开\\
搭车药、药品及医疗器械、设备采购、财务制\\
度执行等有方面作了详细的违规处理意见和处\\
罚标准。院领导班子专门召开班子会议，研究\\
通过专门设立医患关系办公室，负责接待来信\\
、来访人员和病人投诉。医院对于深受群众欢\\
迎，具有良好医德医风者，周一晚七点院科负\\
责人、主任例会上给予通报表扬，对上交的红\\
包，医院给予\%的奖励，并记录在医德医风个\\
人考核档案，与评优、晋升、晋级挂钩。年我\\
院参加考核人员共人，其中优秀人，良好人。\\
年月份至月共表彰人，收到锦旗面，感谢信封\\
，拒收红包元人民币。}
\hln{170}{587}{3921}
\TXR{g5l}{571}{4241}{五、加强廉政建设实行政务公开}
\hln{386}{587}{4241}
\vln{386}{4129}{4352}
\TX{g5a}{130}{4129}{医院政务公开栏内，每季度公开医院人事及财\\
务收支详细情况，使广大职工心中有数。对职\\
工敏感的药品、设备问题实行民主管理，政务\\
公开，成立了药品招标领导小组，严格按照政\\
策办事。对万元以上的大型设备，交职代会讨\\
论，由科室递交可行性论证报告，报卫生局批\\
准后，由政府招标办统一采购。严格执行财务\\
管理制度，坚持财务审批"一支笔"，多年来，\\
一直是全县财务管理先进单位。医院将把患者\\
的利益放在首位，认真抓好、管好，精心打造\\
"无红包医院"，维护"诚信医院"的品牌。}
\hln{123}{386}{4129}
\TX{g5b}{130}{4352}{在医德医风及行风建设上，医院领导始终高度\\
重视，积极积极建立健全体制、机制，加强组\\
织领导，强化管理。倡导人文服务，树立人性\\
化医疗观念，组织广大职工加强自身学习，努\\
力提高自身修养树立正确的人生观、世界观、\\
价值观并充份发挥以人为本，统筹兼顾、互相\\
协调的科学工作原则在各项敏感事情和问题上\\
起到全员监督、齐抓共管，真正达到有效规范\\
医务人员职业行为，端正服务态度，强化服务\\
意识，增强职业责任感、使命感、自豪感，弘\\
扬社会正气，把"除人类之病痛，助健康之完\\
美"作为我们医务人员的永远不变的追求！}
\hln{123}{386}{4352}

% ---------- curves from centre ----------
\begin{pgfonlayer}{bg}
\draw[cv] (c.center) .. controls (1280,1027) and (1290,80) .. (r0.west);
\draw[cv] (c.center) .. controls (1280,1302) and (1290,580) .. (p1.west);
\draw[cv] (c.center) .. controls (1280,2004) and (1290,1857) .. (p3.west);
\draw[cv] (c.center) .. controls (1280,2704) and (1290,3129) .. (p5.west);
\draw[cv] (c.center) .. controls (1280,3341) and (1290,4288) .. (p7.west);
\draw[cv] (c.center) .. controls (1280,1426) and (1270,805) .. (in.east);
\draw[cv] (c.center) .. controls (1280,1694) and (1270,1294) .. (q2.east);
\draw[cv] (c.center) .. controls (1280,2154) and (1270,2129) .. (q4.east);
\draw[cv] (c.center) .. controls (1280,2941) and (1270,3560) .. (q6.east);
\end{pgfonlayer}
\end{tikzpicture}
\end{document}
